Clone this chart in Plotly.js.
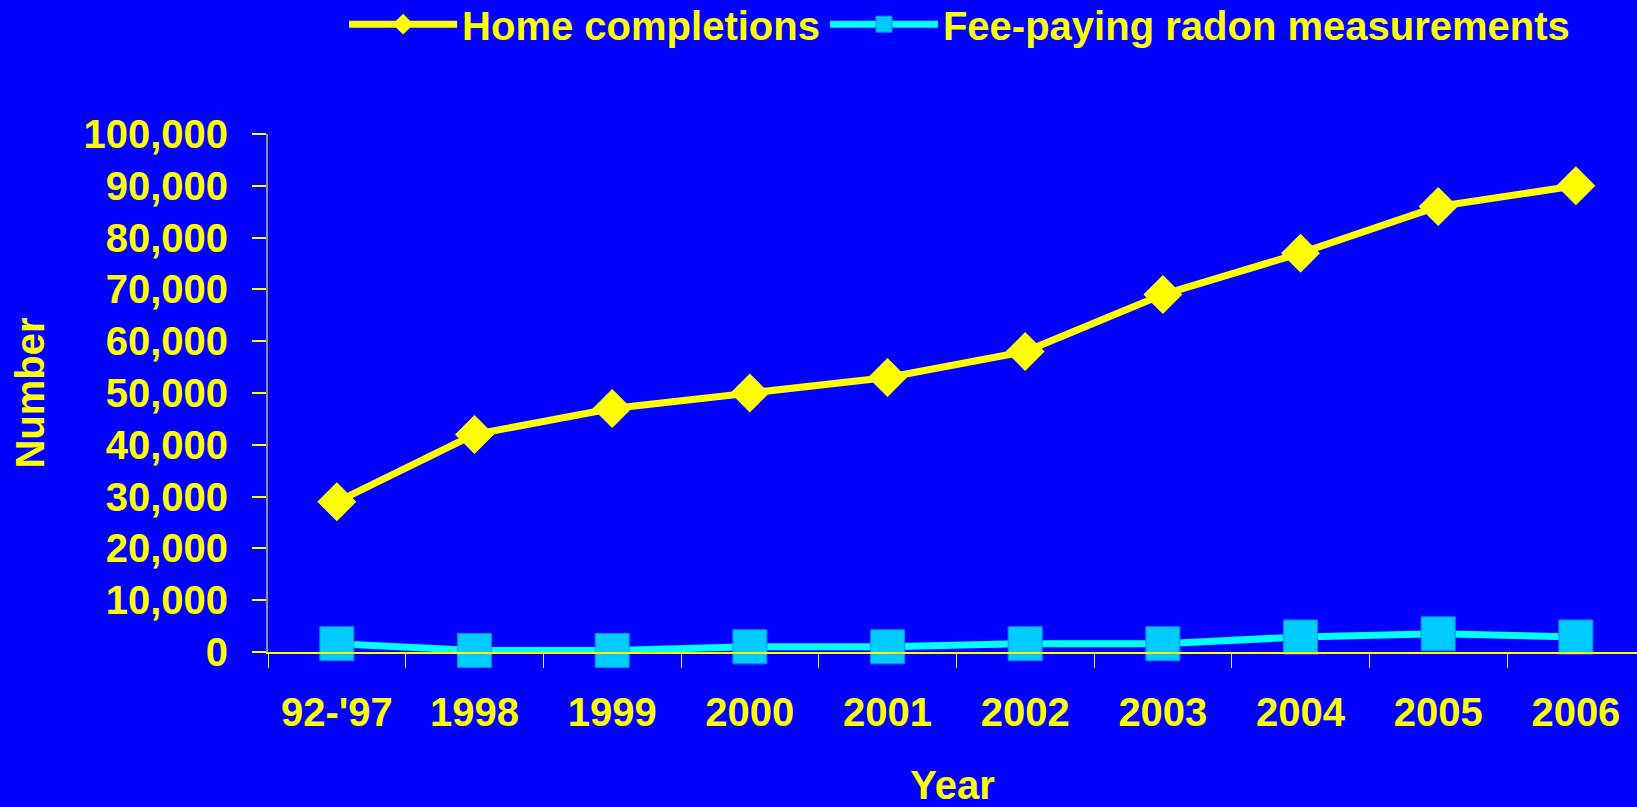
<!DOCTYPE html>
<html>
<head>
<meta charset="utf-8">
<script src="https://cdn.plot.ly/plotly-3.0.1.min.js"></script>
<style>html,body{margin:0;padding:0;background:#0000FF;overflow:hidden;}</style>
</head>
<body>
<div id="chart" style="width:1637px;height:807px;"></div>
<script>
const categories = ["92-'97", "1998", "1999", "2000", "2001", "2002", "2003", "2004", "2005", "2006"];
const homeCompletions = [29000, 42000, 47000, 50000, 53000, 58000, 69000, 77000, 86000, 90000];
const radonMeasurements = [1600, 300, 300, 1000, 1000, 1600, 1600, 2900, 3500, 2900];
const yTickValues = [0, 10000, 20000, 30000, 40000, 50000, 60000, 70000, 80000, 90000, 100000];

const FONT = "Arial, 'Liberation Sans', sans-serif";
const YELLOW = "#FFFF00";

const traces = [
  {
    x: categories, y: homeCompletions, name: "Home completions",
    type: "scatter", mode: "lines+markers", cliponaxis: false,
    line: {color: YELLOW, width: 7},
    marker: {symbol: "diamond", size: 30, color: YELLOW}
  },
  {
    x: categories, y: radonMeasurements, name: "Fee-paying radon measurements",
    type: "scatter", mode: "lines+markers", cliponaxis: false,
    line: {color: "#00FFFF", width: 7},
    marker: {symbol: "square", size: 34, color: "#00CCFF", line: {color: "#0A8CFF", width: 1}}
  }
];

const layout = {
  width: 1637, height: 807,
  paper_bgcolor: "#0000FF", plot_bgcolor: "#0000FF",
  margin: {l: 268, r: 0, t: 134, b: 155, pad: 0},
  font: {family: FONT, color: YELLOW, size: 40, weight: "bold"},
  showlegend: true,
  legend: {
    orientation: "h", xref: "container", yref: "container",
    x: 0.2102, y: 0.97, xanchor: "left", yanchor: "middle",
    bgcolor: "rgba(0,0,0,0)", itemwidth: 108,
    font: {family: FONT, color: YELLOW, size: 40, weight: "bold"}
  },
  xaxis: {
    type: "category", range: [-0.5, 9.444],
    tickson: "boundaries", ticks: "outside", ticklen: 14, tickwidth: 1, tickcolor: "#E8E8A0",
    showline: true, linecolor: YELLOW, linewidth: 2,
    showgrid: false, zeroline: false,
    ticklabelstandoff: 24,
    tickfont: {family: FONT, color: YELLOW, size: 40, weight: "bold"},
    title: {text: "Year", standoff: 38, font: {family: FONT, color: YELLOW, size: 40, weight: "bold"}}
  },
  yaxis: {
    range: [0, 100000], tickvals: yTickValues, tickformat: ",d",
    ticks: "outside", ticklen: 14, tickwidth: 2, tickcolor: YELLOW,
    showline: true, linecolor: "#909090", linewidth: 2,
    showgrid: false, zeroline: false,
    ticklabelstandoff: 16,
    tickfont: {family: FONT, color: YELLOW, size: 40, weight: "bold"},
    title: {text: "Number", standoff: 26, font: {family: FONT, color: YELLOW, size: 40, weight: "bold"}}
  }
};

Plotly.newPlot("chart", traces, layout, {displayModeBar: false, staticPlot: true});
</script>
</body>
</html>
